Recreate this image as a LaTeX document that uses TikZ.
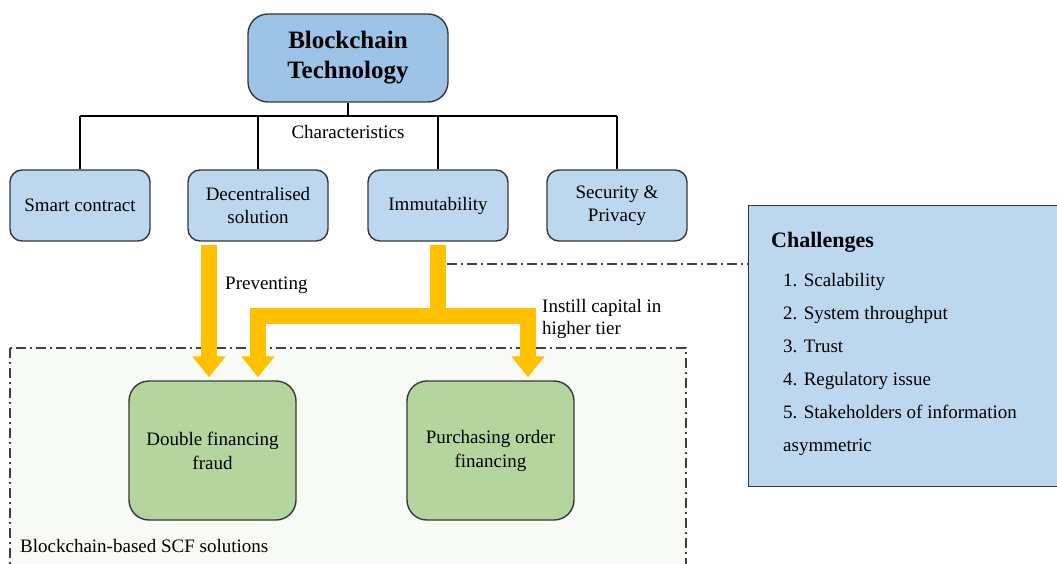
\documentclass[tikz,border=0pt]{standalone}
\usepackage{fontspec}
\setmainfont{Liberation Serif}
\usetikzlibrary{arrows.meta,calc}
\definecolor{techblue}{HTML}{9DC3E6}
\definecolor{charblue}{HTML}{BDD7EE}
\definecolor{solgreen}{HTML}{B4D69E}
\definecolor{regionbg}{HTML}{F8FAF5}
\definecolor{flowgold}{HTML}{FFC000}
\definecolor{edgegray}{HTML}{383838}

\begin{document}
\begin{tikzpicture}[x=1pt,y=-1pt,
	every node/.style={font=\fontsize{19}{23}\selectfont},
	lbl/.style={inner sep=0pt},
	techbox/.style={draw=edgegray,line width=1.4pt,fill=techblue,rounded corners=20pt,
		minimum width=200pt,minimum height=88pt,align=center,inner sep=0pt,
		font=\fontsize{25}{30}\selectfont\bfseries},
	charbox/.style={draw=edgegray,line width=1.4pt,fill=charblue,rounded corners=12pt,
		minimum width=140pt,minimum height=71pt,align=center,inner sep=0pt},
	solbox/.style={draw=edgegray,line width=1.4pt,fill=solgreen,rounded corners=20pt,
		minimum width=167pt,minimum height=139pt,align=center,inner sep=0pt,
		font=\fontsize{19}{24}\selectfont},
	tree/.style={draw=black,line width=1.4pt},
	flow/.style={draw=flowgold,line width=16pt,line join=miter,
		shorten <=3pt,shorten >=3pt,-{Triangle[width=32pt,length=21pt]}},
	dashdotline/.style={draw=black!75,line width=1.3pt,dash pattern=on 10pt off 4pt on 2pt off 4pt}]
	%%%%% START %%%%%
	\def\rowy{205.5}
	\def\soly{450.5}
	\def\gap{33}
	
	\useasboundingbox (0,0) rectangle (1057,564);
	
	% solutions region (runs off the bottom)
	\draw[dashdotline,fill=regionbg] (10,348) rectangle (686,580);
	\node[lbl,anchor=west] (region) at (20,546) {Blockchain-based SCF solutions};
	
	\node[techbox] (tech) at (348,58) {Blockchain\\Technology};
	
	\node[charbox] (smart) at (80,\rowy) {Smart contract};
	\node[charbox] (dec) at (258,\rowy) {Decentralised\\solution};
	\node[charbox] (imm) at (438,\rowy) {Immutability};
	\node[charbox] (sec) at (617,\rowy) {Security \&\\Privacy};
	
	\coordinate (bus) at (348,116);
	\draw[tree] (tech.south) -- (bus);
	\draw[tree] (smart.north |- bus) -- (sec.north |- bus);
	\foreach \n in {smart,dec,imm,sec}
		\draw[tree] (\n.north) -- (\n.north |- bus);
	\node[lbl] (charlbl) at (348,132) {Characteristics};
	
	\node[solbox] (dfraud) at (212.5,\soly) {Double financing\\fraud};
	\node[solbox] (pord) at (490.5,\soly) {Purchasing order\\financing};
	
	% challenges
	\node[draw=edgegray,line width=1.4pt,fill=charblue,minimum width=320pt,minimum height=281pt,
		anchor=north west,inner sep=0pt] (chal) at (748,205) {};
	\node[lbl,anchor=base west,font=\fontsize{22}{26}\selectfont\bfseries] (chalhead) at (771,247) {Challenges};
	\foreach \t [count=\i] in {1. Scalability,2. System throughput,3. Trust,4. Regulatory issue,
		5. Stakeholders of information,asymmetric}
		\node[lbl,anchor=base west] (item\i) at (783,253+\gap*\i) {\t};
	
	% arrows
	\coordinate (split) at ($(imm.south)+(0,74)$);
	\draw[flow] ([xshift=-3.5pt]dfraud.north |- dec.south) -- ([xshift=-3.5pt]dfraud.north);
	\draw[flow] (imm.south) |- (dec.south |- split) -- (dec.south |- dfraud.north);
	\draw[flow,shorten <=0pt] (split) -| ([xshift=37.5pt]pord.north);
	\node[lbl,anchor=west] (prevlbl) at (225,285) {Preventing};
	\node[lbl,anchor=west,align=left,font=\fontsize{19}{22}\selectfont] (instlbl) at (542,319) {Instill capital in\\higher tier};
	
	\coordinate (link) at (447,264);
	\draw[dashdotline] (link) -- (link -| chal.west);
	%%%%% END %%%%%
\end{tikzpicture}
\end{document}
